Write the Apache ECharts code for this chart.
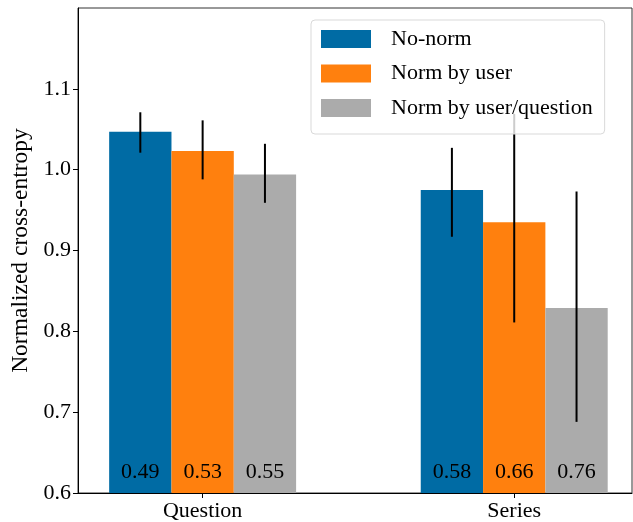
<!DOCTYPE html>
<html>
<head>
<meta charset="utf-8">
<script src="https://cdn.jsdelivr.net/npm/echarts@6/dist/echarts.min.js"></script>
<style>
html,body{margin:0;padding:0;background:#fff;}
#chart{width:633px;height:522px;}
</style>
</head>
<body>
<div id="chart"></div>
<script>
// ---- data ----
const categories = ['Question', 'Series'];
const seriesNames = ['No-norm', 'Norm by user', 'Norm by user/question'];
const noNorm        = [1.047, 0.975];
const normUser      = [1.023, 0.935];
const normUserQ     = [0.994, 0.829];
const noNormErr     = [[1.071, 1.021], [1.027, 0.917]];   // [high, low]
const normUserErr   = [[1.061, 0.988], [1.069, 0.811]];
const normUserQErr  = [[1.032, 0.959], [0.973, 0.688]];
const noNormAcc     = ['0.49', '0.58'];
const normUserAcc   = ['0.53', '0.66'];
const normUserQAcc  = ['0.55', '0.76'];
const yTicks = [0.6, 0.7, 0.8, 0.9, 1.0, 1.1];

// ---- style ----
const colors = ['#006BA4', '#FF800E', '#ABABAB'];
const FONT = 'Liberation Serif';
const BW = 0.2;          // bar width in x units
const YMIN = 0.6, YMAX = 1.2;
const offsets = [-BW, 0, BW];

const values = [noNorm, normUser, normUserQ];
const errs = [noNormErr, normUserErr, normUserQErr];
const accs = [noNormAcc, normUserAcc, normUserQAcc];

const series = [];
seriesNames.forEach((name, si) => {
  series.push({
    name: name,
    type: 'custom',
    itemStyle: { color: colors[si] },
    encode: { x: 0, y: 1 },
    data: categories.map((c, ci) => [ci, values[si][ci]]),
    z: 2,
    renderItem: function (params, api) {
      const x = api.value(0) + offsets[si];
      const y = api.value(1);
      const p0 = api.coord([x - BW / 2, y]);
      const p1 = api.coord([x + BW / 2, YMIN]);
      const pc = api.coord([x, YMIN]);
      return {
        type: 'group',
        children: [
          { type: 'rect', shape: { x: p0[0], y: p0[1], width: p1[0] - p0[0], height: p1[1] - p0[1] },
            style: { fill: colors[si] } },
          { type: 'text', x: pc[0], y: pc[1] - 20.5,
            style: { text: accs[si][params.dataIndex], fill: '#000', font: '22px "' + FONT + '"',
                     align: 'center', verticalAlign: 'middle' }, z2: 10 }
        ]
      };
    }
  });
});
// error bars
seriesNames.forEach((name, si) => {
  series.push({
    name: name + ' err',
    type: 'custom',
    encode: { x: 0, y: [1, 2] },
    data: categories.map((c, ci) => [ci, errs[si][ci][0], errs[si][ci][1]]),
    z: 3,
    silent: true,
    renderItem: function (params, api) {
      const x = api.value(0) + offsets[si];
      const a = api.coord([x, api.value(1)]);
      const b = api.coord([x, api.value(2)]);
      return { type: 'line', shape: { x1: a[0], y1: a[1], x2: b[0], y2: b[1] },
               style: { stroke: '#000', lineWidth: 2 } };
    }
  });
});

const chart = echarts.init(document.getElementById('chart'), null, { renderer: 'canvas' });
chart.setOption({
  animation: false,
  backgroundColor: '#fff',
  textStyle: { fontFamily: FONT },
  grid: { left: 78, right: 1, top: 8, bottom: 28, show: true, borderColor: '#333', borderWidth: 1 },
  legend: {
    data: seriesNames.map(n => ({ name: n, icon: 'rect' })),
    orient: 'vertical',
    left: 311, top: 20,
    itemWidth: 50, itemHeight: 18, itemGap: 12.5,
    padding: [8, 12, 15, 10],
    borderColor: '#d9d9d9', borderWidth: 1, borderRadius: 4,
    backgroundColor: 'rgba(255,255,255,0.8)',
    textStyle: { fontFamily: FONT, fontSize: 22, lineHeight: 22, color: '#000', padding: [0, 0, 0, 15] }
  },
  xAxis: {
    type: 'value', min: -0.4, max: 1.378,
    splitLine: { show: false },
    axisLine: { show: true, onZero: false, lineStyle: { color: '#000', width: 1 } },
    axisTick: { show: true, length: 5, customValues: [0, 1], lineStyle: { color: '#000' } },
    axisLabel: { customValues: [0, 1], formatter: v => categories[Math.round(v)] || '',
                 fontFamily: FONT, fontSize: 22, color: '#000', margin: 7 }
  },
  yAxis: {
    type: 'value', min: YMIN, max: YMAX,
    name: 'Normalized cross-entropy', nameLocation: 'middle', nameGap: 43,
    nameTextStyle: { fontFamily: FONT, fontSize: 23.5, color: '#000' },
    splitLine: { show: false },
    axisLine: { show: true, onZero: false, lineStyle: { color: '#000', width: 1 } },
    axisTick: { show: true, length: 5, customValues: yTicks, lineStyle: { color: '#000' } },
    axisLabel: { customValues: yTicks, formatter: v => v.toFixed(1),
                 fontFamily: FONT, fontSize: 22, color: '#000', margin: 7 }
  },
  series: series
});
</script>
</body>
</html>
